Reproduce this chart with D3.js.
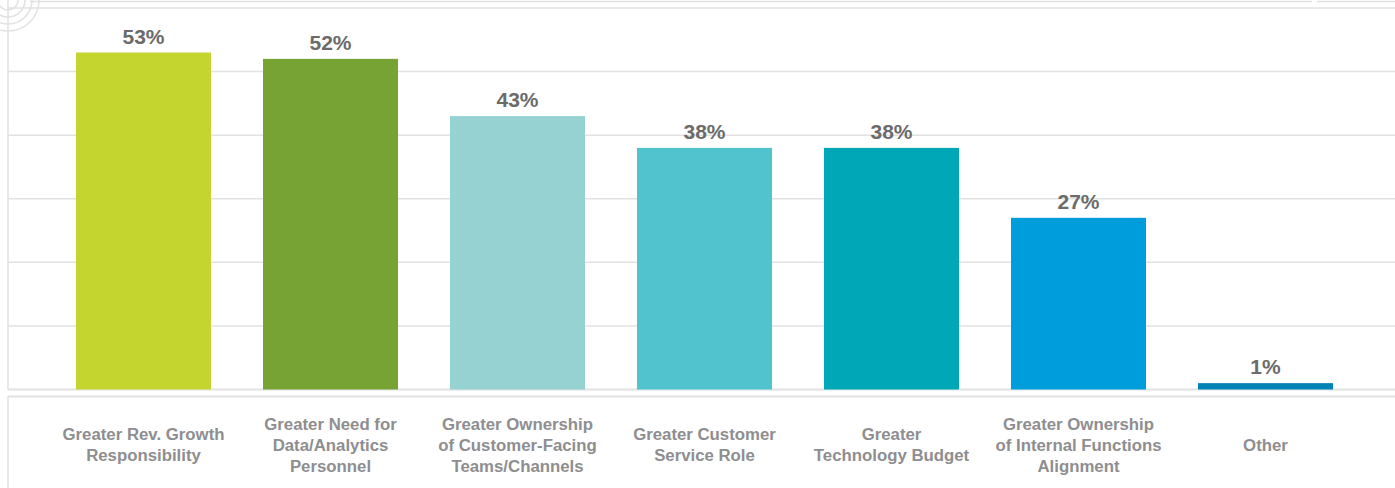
<!DOCTYPE html>
<html>
<head>
<meta charset="utf-8">
<script src="https://cdn.jsdelivr.net/npm/d3@7"></script>
<style>
  html, body { margin: 0; padding: 0; background: #fff; }
  svg { display: block; }
</style>
</head>
<body>
<svg id="chart" width="1395" height="488"></svg>
<script>
// Categories (line breaks mark where each axis label wraps)
const categories = [
  "Greater Rev. Growth\nResponsibility",
  "Greater Need for\nData/Analytics\nPersonnel",
  "Greater Ownership\nof Customer-Facing\nTeams/Channels",
  "Greater Customer\nService Role",
  "Greater\nTechnology Budget",
  "Greater Ownership\nof Internal Functions\nAlignment",
  "Other"
];
const values = [53, 52, 43, 38, 38, 27, 1];
const barColors = ["#c4d52f", "#77a234", "#95d2d1", "#50c3cf", "#00a7b7", "#009ddc", "#0083b5"];
const gridTicks = [0, 10, 20, 30, 40, 50, 60];

const W = 1395, H = 488;
const svg = d3.select("#chart");
const lineColor = "#e2e2e2";

const x = d3.scaleBand()
  .domain(categories)
  .range([50, 1359])
  .paddingInner(0.278)
  .paddingOuter(0.139);

const y = d3.scaleLinear().domain([0, 60]).range([389.5, 8]);

// decorative concentric arcs at the top-left corner
const deco = svg.append("g").attr("fill", "none").attr("stroke", lineColor).attr("stroke-width", 1.5);
[10, 17, 24, 31].forEach(r => {
  deco.append("circle").attr("cx", 8).attr("cy", 0).attr("r", r);
});

// thin header rule with a small break on the right
svg.append("line").attr("x1", 30).attr("x2", 1312).attr("y1", 1.5).attr("y2", 1.5)
  .attr("stroke", lineColor).attr("stroke-width", 1.5);
svg.append("line").attr("x1", 1317).attr("x2", W).attr("y1", 1.5).attr("y2", 1.5)
  .attr("stroke", lineColor).attr("stroke-width", 1.5);

// horizontal gridlines
const grid = svg.append("g");
grid.selectAll("line")
  .data(gridTicks)
  .join("line")
  .attr("x1", 8).attr("x2", W)
  .attr("y1", d => y(d)).attr("y2", d => y(d))
  .attr("stroke", lineColor)
  .attr("stroke-width", d => d === 0 ? 2 : 1.5);

// left frame of the plot and label panel
svg.append("line").attr("x1", 8).attr("x2", 8).attr("y1", 0).attr("y2", 390)
  .attr("stroke", lineColor).attr("stroke-width", 1.5);
svg.append("line").attr("x1", 8).attr("x2", 8).attr("y1", 396).attr("y2", H)
  .attr("stroke", lineColor).attr("stroke-width", 1.5);
svg.append("line").attr("x1", 8).attr("x2", W).attr("y1", 396.5).attr("y2", 396.5)
  .attr("stroke", lineColor).attr("stroke-width", 2);

// bars
svg.append("g").selectAll("rect")
  .data(values)
  .join("rect")
  .attr("x", (d, i) => x(categories[i]))
  .attr("width", x.bandwidth())
  .attr("y", d => y(d))
  .attr("height", d => y(0) - y(d))
  .attr("fill", (d, i) => barColors[i]);

// value labels
svg.append("g").selectAll("text")
  .data(values)
  .join("text")
  .attr("x", (d, i) => x(categories[i]) + x.bandwidth() / 2)
  .attr("y", d => y(d) - 9)
  .attr("text-anchor", "middle")
  .attr("font-family", "'Liberation Sans', Arial, Helvetica, sans-serif")
  .attr("font-weight", "bold")
  .attr("font-size", 21)
  .attr("fill", "#6b6b6b")
  .text(d => d + "%");

// category labels, vertically centred in the label panel
const lineH = 21;
const labelMid = 445;
const labels = svg.append("g")
  .attr("font-family", "'Liberation Sans', Arial, Helvetica, sans-serif")
  .attr("font-weight", "bold")
  .attr("font-size", 16.8)
  .attr("fill", "#8e8e90")
  .attr("text-anchor", "middle");

categories.forEach(c => {
  const lines = c.split("\n");
  const cx = x(c) + x.bandwidth() / 2;
  const startY = labelMid - (lines.length - 1) * lineH / 2;
  const t = labels.append("text").attr("x", cx);
  lines.forEach((ln, j) => {
    t.append("tspan")
      .attr("x", cx)
      .attr("y", startY + j * lineH)
      .attr("dy", "0.35em")
      .text(ln);
  });
});
</script>
</body>
</html>
